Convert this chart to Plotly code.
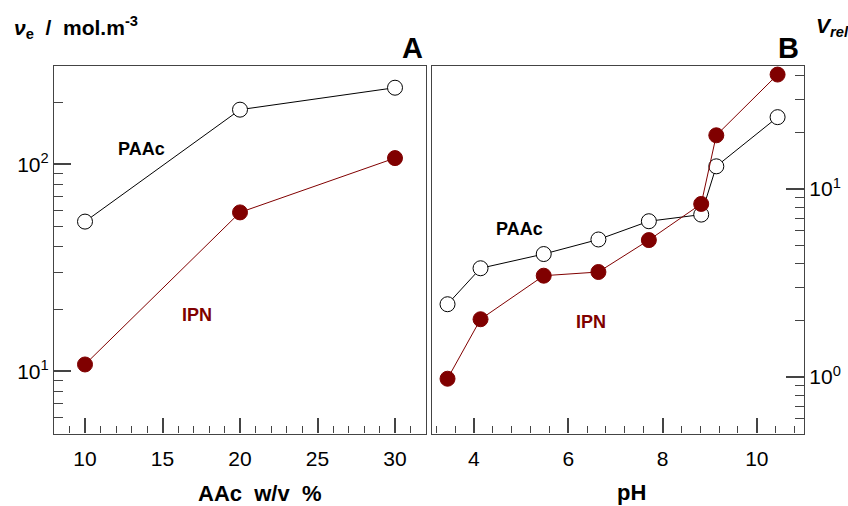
import plotly.graph_objects as go

# Panel A data
aac = [10, 20, 30]
paac_A = [52.9, 183.7, 234.5]
ipn_A = [10.8, 58.6, 107.2]

# Panel B data
ph = [3.44, 4.14, 5.48, 6.64, 7.71, 8.82, 9.14, 10.44]
paac_B = [2.44, 3.79, 4.51, 5.39, 6.74, 7.31, 13.2, 24.1]
ipn_B = [0.98, 2.03, 3.46, 3.62, 5.35, 8.33, 19.3, 40.6]

RED = "#800000"
AX = "#444444"
FONT = "Liberation Sans, Arial, sans-serif"

W, H = 848, 506
def px(x):
    return x / W
def py(y):
    return 1 - y / H

fig = go.Figure()

mk_open = dict(symbol="circle", size=15, color="white", line=dict(color="black", width=1))
mk_fill = dict(symbol="circle", size=15, color=RED, line=dict(color=RED, width=1))

fig.add_trace(go.Scatter(x=aac, y=paac_A, mode="lines+markers", line=dict(color="black", width=1),
                         marker=mk_open, xaxis="x", yaxis="y", showlegend=False))
fig.add_trace(go.Scatter(x=aac, y=ipn_A, mode="lines+markers", line=dict(color=RED, width=1),
                         marker=mk_fill, xaxis="x", yaxis="y", showlegend=False))
fig.add_trace(go.Scatter(x=ph, y=paac_B, mode="lines+markers", line=dict(color="black", width=1),
                         marker=mk_open, xaxis="x2", yaxis="y2", showlegend=False))
fig.add_trace(go.Scatter(x=ph, y=ipn_B, mode="lines+markers", line=dict(color=RED, width=1),
                         marker=mk_fill, xaxis="x2", yaxis="y2", showlegend=False))

ydom = [py(433.5), py(66)]
tickfont = dict(family=FONT, size=21, color="black")

common = dict(showline=True, linecolor=AX, linewidth=1.2, mirror=True, ticks="inside",
              tickcolor=AX, tickwidth=1.5, showgrid=False, zeroline=False, tickfont=tickfont)

fig.update_layout(
    width=W, height=H, margin=dict(l=0, r=0, t=0, b=0),
    paper_bgcolor="white", plot_bgcolor="white",
    xaxis=dict(domain=[px(54), px(426)], range=[8, 32], anchor="y",
               tickvals=[10, 15, 20, 25, 30], ticklen=15, ticklabelstandoff=6,
               minor=dict(dtick=1, tick0=0, ticks="inside", ticklen=7, tickcolor=AX, tickwidth=1.2),
               **common),
    yaxis=dict(domain=ydom, type="log", range=[0.70, 2.475], anchor="x",
               tickvals=[10, 100], ticktext=["10<sup>1</sup>", "10<sup>2</sup>"], ticklen=17,
               minor=dict(tickvals=[6, 7, 8, 9, 20, 30, 40, 50, 60, 70, 80, 90, 200],
                          ticks="inside", ticklen=9, tickcolor=AX, tickwidth=1.2),
               **common),
    xaxis2=dict(domain=[px(431.5), px(804)], range=[3.1, 11.0], anchor="y2",
                tickvals=[4, 6, 8, 10], ticklen=15, ticklabelstandoff=6,
                minor=dict(dtick=0.4, tick0=0, ticks="inside", ticklen=7, tickcolor=AX, tickwidth=1.2),
                **common),
    yaxis2=dict(domain=ydom, type="log", range=[-0.30, 1.654], anchor="x2", side="right",
                tickvals=[1, 10], ticktext=["10<sup>0</sup>", "10<sup>1</sup>"], ticklen=18,
                minor=dict(tickvals=[0.6, 0.7, 0.8, 0.9, 2, 3, 4, 5, 6, 7, 8, 9, 20, 30, 40],
                           ticks="inside", ticklen=9, tickcolor=AX, tickwidth=1.2),
                **common),
)

def ann(x, y, text, size=18, color="black", xanchor="center", yanchor="middle"):
    fig.add_annotation(x=px(x), y=py(y), xref="paper", yref="paper", text=text, showarrow=False,
                       font=dict(family=FONT, size=size, color=color), xanchor=xanchor, yanchor=yanchor)

ann(141, 149, "<b>PAAc</b>", 18)
ann(197, 315, "<b>IPN</b>", 18, RED)
ann(519, 229, "<b>PAAc</b>", 18)
ann(591, 322, "<b>IPN</b>", 18, RED)
ann(412.5, 48, "<b>A</b>", 29)
ann(788, 48, "<b>B</b>", 29)
ann(12, 27, "<b><i>ν</i><sub>e</sub>&nbsp;&nbsp;/&nbsp;&nbsp;mol.m<sup>-3</sup></b>", 21, xanchor="left")
ann(814, 27, "<b><i>V<sub>rel</sub></i></b>", 21, xanchor="left")
ann(259, 493, "<b>AAc&nbsp;&nbsp;w/v&nbsp;&nbsp;%</b>", 22)
ann(631, 492, "<b>pH</b>", 22)

fig.write_html("out.html")
